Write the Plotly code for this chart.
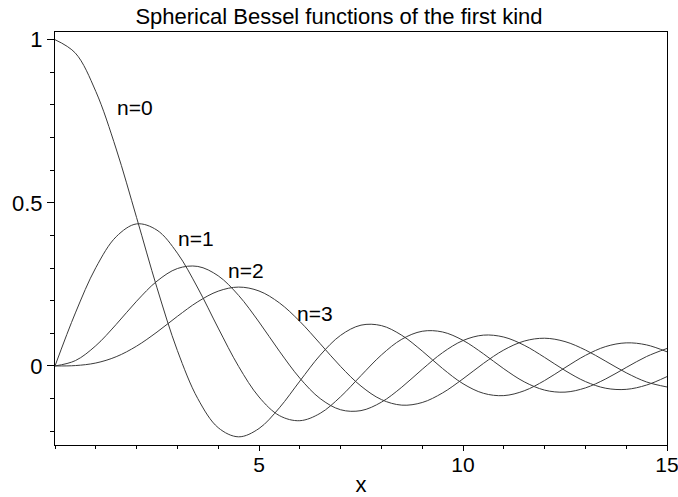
import plotly.graph_objects as go

x = [0, 0.5, 1, 1.5, 2, 2.5, 3, 3.5, 4, 4.5, 5, 5.5, 6, 6.5, 7, 7.5,
     8, 8.5, 9, 9.5, 10, 10.5, 11, 11.5, 12, 12.5, 13, 13.5, 14, 14.5, 15]

j0 = [1.0, 0.95885, 0.84147, 0.66500, 0.45465, 0.23939, 0.04704, -0.10022,
      -0.18920, -0.21723, -0.19178, -0.12828, -0.04657, 0.03310, 0.09386,
      0.12507, 0.12367, 0.09394, 0.04579, -0.00791, -0.05440, -0.08378,
      -0.09091, -0.07614, -0.04471, -0.00531, 0.03232, 0.05954, 0.07076,
      0.06448, 0.04335]

j1 = [0.0, 0.16254, 0.30117, 0.39617, 0.43540, 0.41621, 0.34568, 0.23893,
      0.11611, -0.00143, -0.09509, -0.15217, -0.16779, -0.14515, -0.09429,
      -0.02954, 0.03365, 0.08188, 0.10632, 0.10413, 0.07847, 0.03731,
      -0.00867, -0.04861, -0.07405, -0.08025, -0.06732, -0.03966, -0.00471,
      0.02892, 0.05354]

j2 = [0.0, 0.01639, 0.06204, 0.12734, 0.19845, 0.26006, 0.29864, 0.30502,
      0.27628, 0.21628, 0.13473, 0.04528, -0.03733, -0.10009, -0.13427,
      -0.13689, -0.11105, -0.06504, -0.01035, 0.04079, 0.07794, 0.09444,
      0.08855, 0.06346, 0.02620, -0.01395, -0.04786, -0.06835, -0.07177,
      -0.05850, -0.03264]

j3 = [0.0, 0.00117, 0.00901, 0.02832, 0.06073, 0.10391, 0.15205, 0.19681,
      0.22924, 0.24174, 0.22982, 0.19333, 0.13668, 0.06816, -0.00162,
      -0.06172, -0.10306, -0.12014, -0.11207, -0.08266, -0.03950, 0.00766,
      0.04892, 0.07620, 0.08497, 0.07467, 0.04891, 0.01435, -0.02092,
      -0.04909, -0.06442]

series = [j0, j1, j2, j3]

labels = ["n=0", "n=1", "n=2", "n=3"]
label_x = [1.97, 3.45, 4.67, 6.37]
label_y = [0.793, 0.391, 0.294, 0.162]

title = "Spherical Bessel functions of the first kind"
x_ticks = [5, 10, 15]
y_ticks = [0, 0.5, 1]
y_ticktext = ["0", "0.5", "1"]

FONT = "Liberation Sans, Arial, sans-serif"

fig = go.Figure()
for ys in series:
    fig.add_trace(go.Scatter(x=x, y=ys, mode="lines",
                             line=dict(color="#3a3a3a", width=1, shape="spline", smoothing=1.0),
                             showlegend=False, hoverinfo="skip"))

for t, lx, ly in zip(labels, label_x, label_y):
    fig.add_annotation(x=lx, y=ly, text=t, showarrow=False,
                       xanchor="center", yanchor="middle",
                       font=dict(family=FONT, size=21, color="black"))

fig.update_layout(
    width=678, height=497,
    margin=dict(l=55, r=11, t=32, b=52),
    paper_bgcolor="white", plot_bgcolor="white",
    font=dict(family=FONT, size=22, color="black"),
    title=dict(text=title, x=0.5, xref="container", xanchor="center",
               y=0.982, yref="container", yanchor="top",
               font=dict(family=FONT, size=22, color="black")),
)

fig.update_xaxes(range=[0, 15], tickvals=x_ticks, ticks="outside", ticklen=5,
                 tickcolor="black", showgrid=False, zeroline=False,
                 showline=True, linecolor="black", linewidth=1, mirror=True,
                 ticklabelstandoff=-4, automargin=False, ticklabeloverflow="allow",
                 minor=dict(dtick=1, tick0=0, ticks="outside", ticklen=3, tickcolor="black", showgrid=False),
                 title=dict(text="x", standoff=15, font=dict(family=FONT, size=22)),
                 tickfont=dict(family=FONT, size=21))

fig.update_yaxes(range=[-0.2423, 1.0236], tickvals=y_ticks, ticktext=y_ticktext,
                 ticks="outside", ticklen=7, tickcolor="black",
                 showgrid=False, zeroline=False,
                 showline=True, linecolor="black", linewidth=1, mirror=True,
                 automargin=False, ticklabeloverflow="allow",
                 minor=dict(dtick=0.1, tick0=0, ticks="outside", ticklen=4, tickcolor="black", showgrid=False),
                 tickfont=dict(family=FONT, size=22))

fig.write_html("out.html", config={"displayModeBar": False},
               post_script="document.body.style.margin='0px';")
